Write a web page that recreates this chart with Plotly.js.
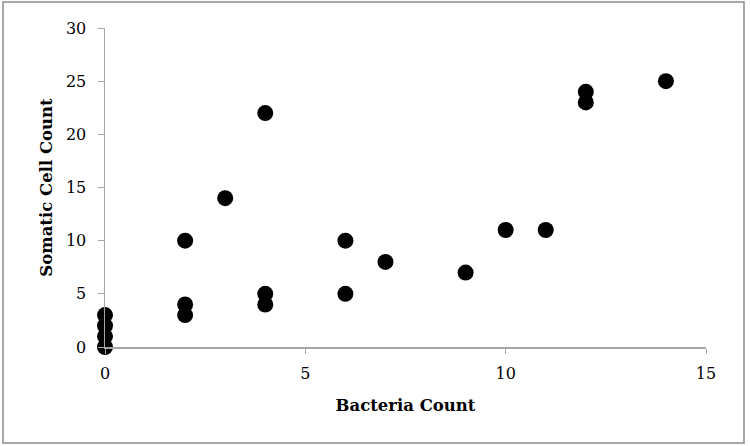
<!DOCTYPE html>
<html><head><meta charset="utf-8">
<script src="https://cdn.plot.ly/plotly-3.0.1.min.js"></script>
<style>html,body{margin:0;padding:0;background:#fff}#c{width:750px;height:446px}</style>
</head><body><div id="c"></div>
<script>
const bacteria = [0,0,0,0,2,2,2,3,4,4,4,6,6,7,9,10,11,12,12,14];
const somatic  = [0,1,2,3,3,4,10,14,22,4,5,10,5,8,7,11,11,24,23,25];
const xTicks = [0,5,10,15];
const yTicks = [0,5,10,15,20,25,30];

const font = {family:'"DejaVu Serif","Liberation Serif",serif', size:16, color:'#000'};
const trace = {
  x: bacteria, y: somatic, type:'scatter', mode:'markers',
  marker:{color:'#000', size:16}, cliponaxis:false, hoverinfo:'none'
};
const layout = {
  width:750, height:446,
  margin:{l:105, r:44, t:28, b:99},
  paper_bgcolor:'#fff', plot_bgcolor:'#fff',
  showlegend:false, font: font,
  xaxis:{range:[0,15], tickvals:xTicks, ticks:'outside', ticklen:5, tickcolor:'#a6a6a6',
    showline:true, linecolor:'#a6a6a6', linewidth:1.5, showgrid:false, zeroline:false,
    ticklabelstandoff:6,
    tickfont:{family:font.family, size:16, color:'#000'},
    title:{text:'<b>Bacteria Count</b>', font:{family:font.family, size:16.5, color:'#000'}, standoff:17}},
  yaxis:{range:[0,30], tickvals:yTicks, ticks:'outside', ticklen:6, tickcolor:'#a6a6a6',
    showline:true, linecolor:'#a6a6a6', linewidth:1.5, showgrid:false, zeroline:false,
    ticklabelstandoff:8,
    tickfont:{family:font.family, size:16, color:'#000'},
    title:{text:'<b>Somatic Cell Count</b>', font:{family:font.family, size:16.5, color:'#000'}, standoff:9}},
  shapes:[{type:'rect', xref:'paper', yref:'paper',
    x0:(3-105)/601, x1:(744-105)/601, y0:(347-443)/319, y1:(347-2)/319,
    line:{color:'#8c8c8c', width:1.5}, fillcolor:'rgba(0,0,0,0)', layer:'below'}]
};
Plotly.newPlot('c',[trace],layout,{displayModeBar:false, staticPlot:true});
</script></body></html>
